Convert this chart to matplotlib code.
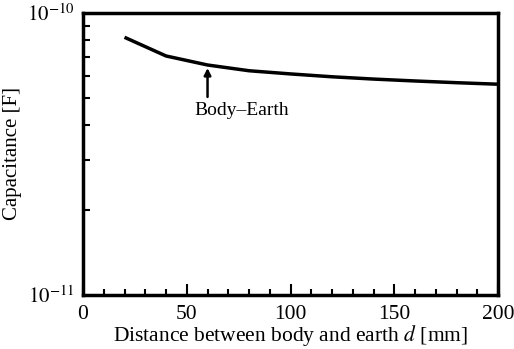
import numpy as np
import matplotlib
matplotlib.use("Agg")
import matplotlib.pyplot as plt
from matplotlib.ticker import FixedLocator, LogLocator, NullFormatter

plt.rcParams.update({"font.family": "Liberation Serif", "font.size": 14,
                     "mathtext.fontset": "stix"})

# capacitance between body and earth vs. separation
distance_mm = [20, 40, 60, 80, 100, 120, 140, 160, 180, 200]
capacitance_F = [8.2e-11, 7.04e-11, 6.54e-11, 6.24e-11, 6.08e-11,
                 5.94e-11, 5.83e-11, 5.74e-11, 5.66e-11, 5.59e-11]

fig = plt.figure(figsize=(5.14, 3.49), dpi=100)
ax = fig.add_axes([0.1615, 0.1547, 0.8075, 0.8081])
ax.plot(distance_mm, capacitance_F, color="black", linewidth=2.5, solid_capstyle="butt")

ax.set_yscale("log")
ax.set_xlim(0, 200)
ax.set_ylim(1e-11, 1e-10)
ax.set_xticks([0, 50, 100, 150, 200])
ax.xaxis.set_minor_locator(FixedLocator(np.arange(10, 200, 10)))
ax.yaxis.set_major_locator(FixedLocator([1e-11, 1e-10]))
ax.yaxis.set_minor_locator(LogLocator(base=10, subs=np.arange(2, 10)))
ax.yaxis.set_minor_formatter(NullFormatter())
ax.set_yticklabels([r"$10^{-11}$", r"$10^{-10}$"], fontsize=15)

ax.tick_params(which="both", direction="in", top=False, right=False, width=1.5)
ax.tick_params(axis="x", which="major", length=8, pad=7, labelsize=15.5)
ax.tick_params(axis="x", which="minor", length=4)
ax.tick_params(axis="y", which="major", length=0, pad=6)
ax.tick_params(axis="y", which="minor", length=5)
for s in ax.spines.values():
    s.set_linewidth(2.5)

ax.set_xlabel(r"Distance between body and earth $d$ [mm]", fontsize=15.5)
ax.xaxis.set_label_coords(0.5, -0.1)
ax.set_ylabel("Capacitance [F]", fontsize=15, labelpad=4)

# label arrow pointing up at the curve
ax.annotate("", xy=(60, 6.38e-11), xytext=(60, 5.04e-11),
            arrowprops=dict(arrowstyle="-|>", color="black", lw=1.8,
                            mutation_scale=10, shrinkA=0, shrinkB=0))
ax.text(76.5, 4.51e-11, "Body\u2013Earth", ha="center", va="center", fontsize=14)

fig.savefig("out.png", dpi=100)
